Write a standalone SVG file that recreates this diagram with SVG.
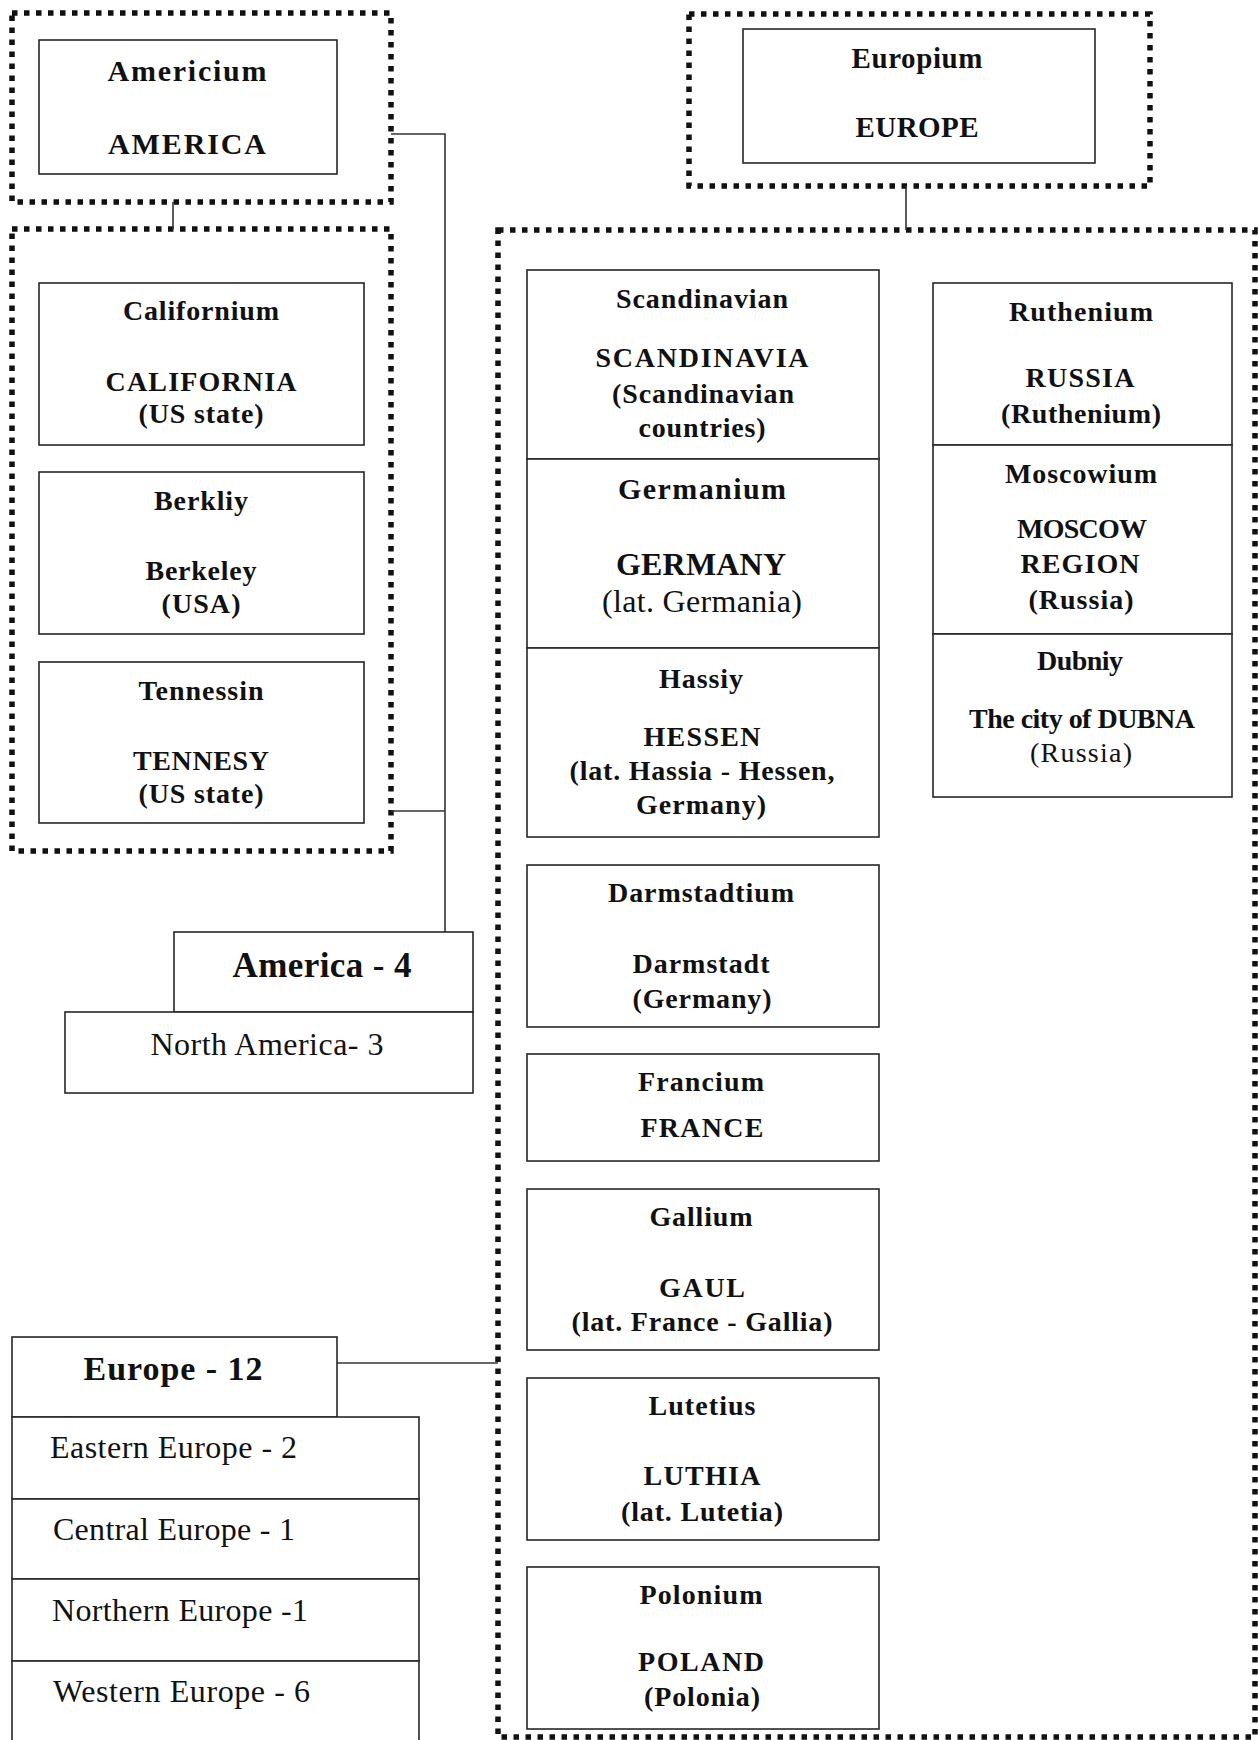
<svg xmlns="http://www.w3.org/2000/svg" width="1258" height="1740" viewBox="0 0 1258 1740">
<style>
.bg{fill:#fff}
.box{fill:#fff;stroke:#262626;stroke-width:1.6}
.dot{fill:none;stroke:#111;stroke-width:5.5;stroke-dasharray:5.5 6.5}
.conn{fill:none;stroke:#333;stroke-width:1.6}
text{font-family:"Liberation Serif","Times New Roman",serif;fill:#111}
.b{font-weight:bold;text-anchor:middle}
.r{font-weight:normal;text-anchor:middle}
.l{font-weight:normal;text-anchor:start;font-size:32px}
.f28{font-size:28px}
.f29{font-size:29px}
.f30{font-size:30px}
.f32{font-size:32px}
.f34{font-size:34px}
.f35{font-size:35px}
</style>
<rect class="bg" x="0" y="0" width="1258" height="1740"/>

<!-- dotted containers -->
<g id="america-frame"><rect class="dot" x="12" y="13" width="379" height="189"/></g>
<g id="america-elements-frame"><rect class="dot" x="12" y="229" width="379" height="622"/></g>
<g id="europe-frame"><rect class="dot" x="689" y="14" width="461" height="172"/></g>
<g id="europe-elements-frame"><rect class="dot" x="498" y="230" width="757" height="1507"/></g>

<g id="connectors">
<path class="conn" d="M173 202 V229"/>
<path class="conn" d="M906 186 V230"/>
<path class="conn" d="M391 134 H445 V932"/>
<path class="conn" d="M391 811 H445"/>
<path class="conn" d="M337 1363 H498"/>
</g>

<g id="americium">
<rect class="box" x="39" y="40" width="298" height="134"/>
<text class="b f30" x="187" y="81" textLength="159" lengthAdjust="spacing">Americium</text>
<text class="b f30" x="187" y="154" textLength="158" lengthAdjust="spacing">AMERICA</text>
</g>

<g id="europium">
<rect class="box" x="743" y="29" width="352" height="134"/>
<text class="b f29" x="917" y="68" textLength="131" lengthAdjust="spacing">Europium</text>
<text class="b f29" x="917" y="137" textLength="123" lengthAdjust="spacing">EUROPE</text>
</g>

<g id="californium">
<rect class="box" x="39" y="283" width="325" height="162"/>
<text class="b f28" x="201" y="320" textLength="156" lengthAdjust="spacing">Californium</text>
<text class="b f28" x="201" y="391" textLength="191" lengthAdjust="spacing">CALIFORNIA</text>
<text class="b f28" x="201" y="423" textLength="125" lengthAdjust="spacing">(US state)</text>
</g>

<g id="berkliy">
<rect class="box" x="39" y="472" width="325" height="162"/>
<text class="b f28" x="201" y="510" textLength="94" lengthAdjust="spacing">Berkliy</text>
<text class="b f28" x="201" y="580" textLength="111" lengthAdjust="spacing">Berkeley</text>
<text class="b f28" x="201" y="613" textLength="79" lengthAdjust="spacing">(USA)</text>
</g>

<g id="tennessin">
<rect class="box" x="39" y="662" width="325" height="161"/>
<text class="b f28" x="201" y="700" textLength="125" lengthAdjust="spacing">Tennessin</text>
<text class="b f28" x="201" y="770" textLength="136" lengthAdjust="spacing">TENNESY</text>
<text class="b f28" x="201" y="803" textLength="125" lengthAdjust="spacing">(US state)</text>
</g>

<g id="america-4">
<rect class="box" x="174" y="932" width="299" height="80"/>
<text class="b f35" x="322" y="977" textLength="179" lengthAdjust="spacing">America - 4</text>
</g>

<g id="north-america">
<rect class="box" x="65" y="1012" width="408" height="81"/>
<text class="r f32" x="267" y="1055" textLength="233" lengthAdjust="spacing">North America- 3</text>
</g>

<g id="europe-12">
<rect class="box" x="12" y="1337" width="325" height="80"/>
<text class="b f34" x="173" y="1380" textLength="179" lengthAdjust="spacing">Europe - 12</text>
</g>

<g id="eastern-europe">
<rect class="box" x="12" y="1417" width="407" height="82"/>
<text class="l" x="50" y="1458" textLength="247" lengthAdjust="spacing">Eastern Europe - 2</text>
</g>
<g id="central-europe">
<rect class="box" x="12" y="1499" width="407" height="80"/>
<text class="l" x="53" y="1540" textLength="242" lengthAdjust="spacing">Central Europe - 1</text>
</g>
<g id="northern-europe">
<rect class="box" x="12" y="1579" width="407" height="82"/>
<text class="l" x="52" y="1621" textLength="256" lengthAdjust="spacing">Northern Europe -1</text>
</g>
<g id="western-europe">
<rect class="box" x="12" y="1661" width="407" height="84"/>
<text class="l" x="53" y="1702" textLength="257" lengthAdjust="spacing">Western Europe - 6</text>
</g>

<g id="scandinavian">
<rect class="box" x="527" y="270" width="352" height="189"/>
<text class="b f28" x="702" y="308" textLength="172" lengthAdjust="spacing">Scandinavian</text>
<text class="b f28" x="702" y="367" textLength="213" lengthAdjust="spacing">SCANDINAVIA</text>
<text class="b f28" x="703" y="403" textLength="182" lengthAdjust="spacing">(Scandinavian</text>
<text class="b f28" x="702" y="437" textLength="127" lengthAdjust="spacing">countries)</text>
</g>

<g id="germanium">
<rect class="box" x="527" y="459" width="352" height="189"/>
<text class="b f30" x="702" y="499" textLength="168" lengthAdjust="spacing">Germanium</text>
<text class="b f32" x="701" y="575" textLength="170" lengthAdjust="spacing">GERMANY</text>
<text class="r f32" x="702" y="612" textLength="200" lengthAdjust="spacing">(lat. Germania)</text>
</g>

<g id="hassiy">
<rect class="box" x="527" y="648" width="352" height="189"/>
<text class="b f28" x="701" y="688" textLength="84" lengthAdjust="spacing">Hassiy</text>
<text class="b f28" x="702" y="746" textLength="117" lengthAdjust="spacing">HESSEN</text>
<text class="b f28" x="702" y="780" textLength="265" lengthAdjust="spacing">(lat. Hassia - Hessen,</text>
<text class="b f28" x="701" y="814" textLength="130" lengthAdjust="spacing">Germany)</text>
</g>

<g id="darmstadtium">
<rect class="box" x="527" y="865" width="352" height="162"/>
<text class="b f28" x="701" y="902" textLength="186" lengthAdjust="spacing">Darmstadtium</text>
<text class="b f28" x="701" y="973" textLength="137" lengthAdjust="spacing">Darmstadt</text>
<text class="b f28" x="702" y="1008" textLength="139" lengthAdjust="spacing">(Germany)</text>
</g>

<g id="francium">
<rect class="box" x="527" y="1054" width="352" height="107"/>
<text class="b f28" x="701" y="1091" textLength="126" lengthAdjust="spacing">Francium</text>
<text class="b f28" x="702" y="1137" textLength="123" lengthAdjust="spacing">FRANCE</text>
</g>

<g id="gallium">
<rect class="box" x="527" y="1189" width="352" height="161"/>
<text class="b f28" x="701" y="1226" textLength="103" lengthAdjust="spacing">Gallium</text>
<text class="b f28" x="702" y="1297" textLength="86" lengthAdjust="spacing">GAUL</text>
<text class="b f28" x="702" y="1331" textLength="261" lengthAdjust="spacing">(lat. France - Gallia)</text>
</g>

<g id="lutetius">
<rect class="box" x="527" y="1378" width="352" height="162"/>
<text class="b f28" x="702" y="1415" textLength="107" lengthAdjust="spacing">Lutetius</text>
<text class="b f28" x="702" y="1485" textLength="117" lengthAdjust="spacing">LUTHIA</text>
<text class="b f28" x="702" y="1521" textLength="162" lengthAdjust="spacing">(lat. Lutetia)</text>
</g>

<g id="polonium">
<rect class="box" x="527" y="1567" width="352" height="162"/>
<text class="b f28" x="701" y="1604" textLength="123" lengthAdjust="spacing">Polonium</text>
<text class="b f28" x="701" y="1671" textLength="126" lengthAdjust="spacing">POLAND</text>
<text class="b f28" x="702" y="1706" textLength="116" lengthAdjust="spacing">(Polonia)</text>
</g>

<g id="ruthenium">
<rect class="box" x="933" y="283" width="299" height="162"/>
<text class="b f28" x="1081" y="321" textLength="144" lengthAdjust="spacing">Ruthenium</text>
<text class="b f28" x="1080" y="387" textLength="109" lengthAdjust="spacing">RUSSIA</text>
<text class="b f28" x="1081" y="423" textLength="160" lengthAdjust="spacing">(Ruthenium)</text>
</g>

<g id="moscowium">
<rect class="box" x="933" y="445" width="299" height="189"/>
<text class="b f28" x="1081" y="483" textLength="152" lengthAdjust="spacing">Moscowium</text>
<text class="b f28" x="1082" y="538" textLength="130" lengthAdjust="spacing">MOSCOW</text>
<text class="b f28" x="1080" y="573" textLength="119" lengthAdjust="spacing">REGION</text>
<text class="b f28" x="1081" y="609" textLength="105" lengthAdjust="spacing">(Russia)</text>
</g>

<g id="dubniy">
<rect class="box" x="933" y="634" width="299" height="163"/>
<text class="b f28" x="1080" y="670" textLength="86" lengthAdjust="spacing">Dubniy</text>
<text class="b f28" x="1082" y="728" textLength="226" lengthAdjust="spacing">The city of DUBNA</text>
<text class="r f28" x="1081" y="762" textLength="102" lengthAdjust="spacing">(Russia)</text>
</g>
</svg>
